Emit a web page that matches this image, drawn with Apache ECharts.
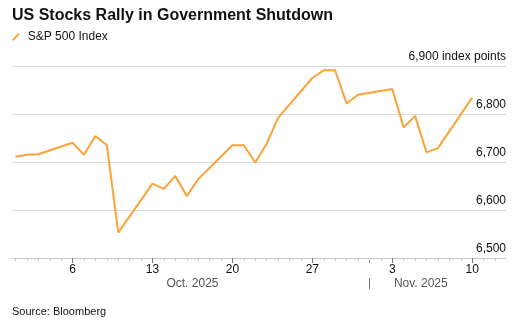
<!DOCTYPE html>
<html>
<head>
<meta charset="utf-8">
<script src="https://cdn.jsdelivr.net/npm/echarts@6/dist/echarts.min.js"></script>
<style>
html,body{margin:0;padding:0;background:#fff;}
#c{width:517px;height:330px;}
</style>
</head>
<body>
<div id="c"></div>
<script>
// ---- data ----
const title = 'US Stocks Rally in Government Shutdown';
const seriesName = 'S&P 500 Index';
const source = 'Source: Bloomberg';
const axisStart = '2025-10-01';
const axisEnd = '2025-11-12';
const dates = ['2025-10-01','2025-10-02','2025-10-03','2025-10-06','2025-10-07','2025-10-08','2025-10-09','2025-10-10',
  '2025-10-13','2025-10-14','2025-10-15','2025-10-16','2025-10-17','2025-10-20','2025-10-21','2025-10-22','2025-10-23','2025-10-24',
  '2025-10-27','2025-10-28','2025-10-29','2025-10-30','2025-10-31','2025-11-03','2025-11-04','2025-11-05','2025-11-06','2025-11-07','2025-11-10'];
const values = [6711,6715,6716,6740,6715,6754,6735,6553,
  6655,6644,6671,6629,6664,6735,6735,6699,6738,6792,
  6875,6891,6891,6822,6840,6852,6772,6796,6720,6729,6834];
const tickDays = ['2025-10-06','2025-10-13','2025-10-20','2025-10-27','2025-11-03','2025-11-10'];
const tickLabels = ['6','13','20','27','3','10'];
const yTicks = [6500,6600,6700,6800,6900];
const yUnit = ' index points';
const monthLabels = ['Oct. 2025','Nov. 2025'];
const monthSplit = '2025-11-01';

// calendar days for the axis
const categories = [];
(function(){
  let t = Date.parse(axisStart + 'T00:00:00Z');
  const end = Date.parse(axisEnd + 'T00:00:00Z');
  while (t <= end) { categories.push(new Date(t).toISOString().slice(0,10)); t += 86400000; }
})();

const FONT = '"Liberation Sans", Arial, sans-serif';
const ORANGE = '#fba23a';
const chart = echarts.init(document.getElementById('c'), null, {renderer:'canvas'});
const isTick = (i, v) => tickDays.indexOf(v) >= 0;

chart.setOption({
  animation: false,
  textStyle: {fontFamily: FONT},
  title: {
    text: title, left: 12, top: 8, padding: 0,
    textStyle: {fontFamily: FONT, fontSize: 16, fontWeight: 'bold', color: '#111'}
  },
  legend: {
    left: 12, top: 31, padding: 0, itemWidth: 8, itemHeight: 8, itemGap: 10,
    icon: 'path://M0,9L8,0L10,1.6L2,10.6Z',
    textStyle: {fontFamily: FONT, fontSize: 12, color: '#111', padding: [0,0,0,3]},
    data: [seriesName]
  },
  grid: [
    {left: 12, right: 11, top: 66, bottom: 72},
    {left: 15.5, right: 22, top: 66, bottom: 72}
  ],
  xAxis: [
    {type: 'value', gridIndex: 0, position: 'bottom', min: 0, max: 1, splitLine: {show: false},
     axisLabel: {show: false}, axisTick: {show: false},
     axisLine: {show: true, lineStyle: {color: '#c8c8c8', width: 1}}},
    {type: 'category', gridIndex: 1, position: 'bottom', data: categories, boundaryGap: false,
     axisLine: {show: false}, axisLabel: {show: false}, splitLine: {show: false},
     axisTick: {show: true, interval: 0, length: 3, lineStyle: {color: '#c8c8c8'}}},
    {type: 'category', gridIndex: 1, position: 'bottom', data: categories, boundaryGap: false,
     axisLine: {show: false}, splitLine: {show: false},
     axisTick: {show: true, interval: isTick, length: 5, lineStyle: {color: '#777'}},
     axisLabel: {show: true, interval: isTick, margin: 6, fontFamily: FONT, fontSize: 12, color: '#111',
       formatter: v => tickLabels[tickDays.indexOf(v)] || ''}}
  ],
  yAxis: [
    {type: 'value', gridIndex: 0, position: 'right', min: yTicks[0], max: yTicks[yTicks.length-1], interval: 100,
     axisLine: {show: false}, axisTick: {show: false},
     splitLine: {show: true, lineStyle: {color: '#dcdcdc', width: 1}},
     axisLabel: {inside: true, margin: 0, verticalAlign: 'bottom', padding: [0,0,3,0],
       fontFamily: FONT, fontSize: 12, color: '#111',
       formatter: v => { const s = v.toLocaleString('en-US'); return v === yTicks[yTicks.length-1] ? s + yUnit : s; }}},
    {type: 'value', gridIndex: 1, min: yTicks[0], max: yTicks[yTicks.length-1], show: false, splitLine: {show: false}}
  ],
  series: [{
    name: seriesName, type: 'line', xAxisIndex: 1, yAxisIndex: 1,
    data: dates.map((d, i) => [d, values[i]]),
    showSymbol: false, symbol: 'none', color: ORANGE,
    lineStyle: {color: ORANGE, width: 2}, z: 5
  }]
});

// month labels and separator
const px = d => chart.convertToPixel({xAxisIndex: 1}, d);
const yBase = chart.convertToPixel({yAxisIndex: 1}, yTicks[0]);
const sepX = Math.round(px(monthSplit)) + 0.5;
const octX = (px('2025-10-16') + px('2025-10-17')) / 2;
const novX = (px('2025-11-05') + px('2025-11-06')) / 2;
chart.setOption({
  graphic: [
    {type: 'line', shape: {x1: sepX, y1: yBase, x2: sepX, y2: yBase + 5}, style: {stroke: '#777', lineWidth: 1}},
    {type: 'line', shape: {x1: sepX, y1: yBase + 20, x2: sepX, y2: yBase + 31}, style: {stroke: '#777', lineWidth: 1}},
    {type: 'text', x: octX, y: yBase + 26, style: {text: monthLabels[0], align: 'center', verticalAlign: 'middle', font: '12px ' + FONT, fill: '#555'}},
    {type: 'text', x: novX, y: yBase + 26, style: {text: monthLabels[1], align: 'center', verticalAlign: 'middle', font: '12px ' + FONT, fill: '#555'}},
    {type: 'text', left: 12, top: 306, style: {text: source, font: '11px ' + FONT, fill: '#111'}}
  ]
});
</script>
</body>
</html>
